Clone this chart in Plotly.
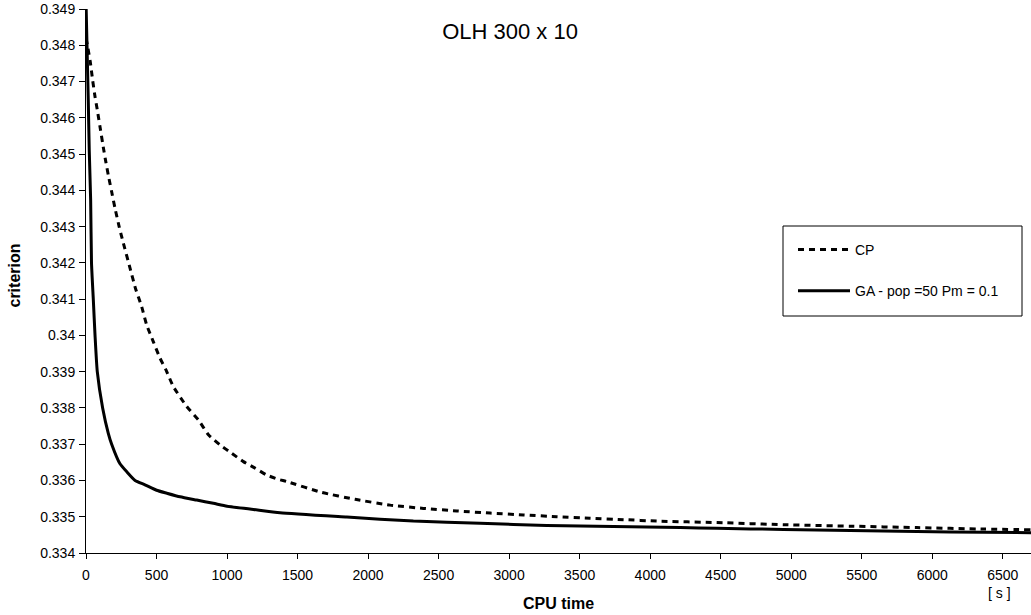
import plotly.graph_objects as go

# ---------------- data ----------------
cp_time = [0, 10, 30, 47, 64, 80, 99, 118, 138, 158, 182, 206, 235, 265, 314, 352,
           395, 430, 477, 525, 567, 619, 714, 797, 868, 950, 1033, 1116, 1199, 1281,
           1364, 1423, 1671, 1908, 2156, 2392, 2629, 2865, 3101, 3338, 3574, 3811,
           4047, 4473, 4946, 5418, 5891, 6364, 6700]
cp_crit = [0.3482, 0.3480, 0.34755, 0.34704, 0.34658, 0.34622, 0.34576, 0.3453, 0.34484,
           0.34442, 0.34396, 0.3435, 0.3430, 0.34254, 0.34183, 0.34128, 0.34079, 0.34029,
           0.33983, 0.33937, 0.33905, 0.33859, 0.33804, 0.33767, 0.33726, 0.33698, 0.33675,
           0.33652, 0.33634, 0.33615, 0.33603, 0.33597, 0.33567, 0.33548, 0.33532, 0.33523,
           0.33516, 0.3351, 0.33505, 0.335, 0.33496, 0.33492, 0.33488, 0.33484, 0.33478,
           0.33474, 0.3347, 0.33466, 0.33464]

ga_time = [0, 16, 23, 33, 39, 52, 64, 80, 118, 158, 182, 241, 289, 348, 418, 500, 572,
           667, 785, 903, 1000, 1187, 1376, 1849, 2321, 2794, 3267, 3740, 4213, 4473,
           4946, 5418, 5891, 6364, 6700]
ga_crit = [0.3492, 0.34649, 0.34511, 0.34373, 0.3420, 0.34098, 0.3400, 0.3390, 0.3380,
           0.3373, 0.3370, 0.33646, 0.33624, 0.3360, 0.33588, 0.33573, 0.33565, 0.33555,
           0.33546, 0.33537, 0.33529, 0.3352, 0.33511, 0.33499, 0.33488, 0.33482, 0.33476,
           0.33473, 0.3347, 0.33468, 0.33465, 0.33462, 0.33459, 0.33457, 0.33456]

series_names = ["CP", "GA - pop =50 Pm = 0.1"]
chart_title = "OLH 300 x 10"
x_title = "CPU time"
y_title = "criterion"
x_unit = "[ s ]"

# ---------------- layout geometry ----------------
W, H = 1031, 615
ML, MR, MT, MB = 86, 0, 9, 62
PW, PH = W - ML - MR, H - MT - MB


def px(xp):
    return (xp - ML) / PW


def py(yp):
    return (H - MB - yp) / PH


FONT = "Liberation Sans, Arial, sans-serif"

fig = go.Figure()
fig.add_trace(go.Scatter(
    x=cp_time, y=cp_crit, mode="lines", name=series_names[0], legendgroup="cp",
    line=dict(color="black", width=3, dash="6px,5px", shape="spline", smoothing=0.5)))
fig.add_trace(go.Scatter(
    x=ga_time, y=ga_crit, mode="lines", name=series_names[1], legendgroup="ga",
    line=dict(color="black", width=3, shape="spline", smoothing=0.5)))

fig.update_layout(
    width=W, height=H,
    margin=dict(l=ML, r=MR, t=MT, b=MB, pad=0),
    paper_bgcolor="white", plot_bgcolor="white",
    font=dict(family=FONT, size=14, color="black"),
    title=dict(text=chart_title, xref="container", yref="container",
               x=510 / W, y=1 - 31.7 / H, xanchor="center", yanchor="middle",
               font=dict(size=22, color="black")),
    showlegend=True,
    legend=dict(x=px(793), y=py(234), xanchor="left", yanchor="top",
                bgcolor="rgba(0,0,0,0)", borderwidth=0, itemwidth=52,
                tracegroupgap=20, traceorder="grouped",
                font=dict(size=14, color="black")),
    xaxis=dict(range=[0, 6700], tick0=0, dtick=500, ticks="outside", ticklen=5,
               tickwidth=1, tickcolor="black", showline=True, linecolor="black",
               linewidth=1, showgrid=False, zeroline=False, automargin=False,
               ticklabelstandoff=4,
               title=dict(text="<b>" + x_title + "</b>", font=dict(size=16), standoff=16)),
    yaxis=dict(range=[0.334, 0.349], tick0=0.334, dtick=0.001, tickformat=".3~f",
               ticks="outside", ticklen=6, tickwidth=1, tickcolor="black",
               showline=True, linecolor="black", linewidth=1, showgrid=False,
               zeroline=False, automargin=False, ticklabelstandoff=1),
)

# legend frame
fig.add_shape(type="rect", xref="paper", yref="paper",
              x0=px(783), x1=px(1022), y0=py(316), y1=py(226),
              line=dict(color="black", width=1), fillcolor="white", layer="above")

# y-axis title and unit label
fig.add_annotation(text="<b>" + y_title + "</b>", xref="paper", yref="paper",
                   x=px(14), y=py(275.5), xanchor="center", yanchor="middle",
                   textangle=-90, showarrow=False, font=dict(size=16, color="black"))
fig.add_annotation(text=x_unit, xref="paper", yref="paper",
                   x=px(999), y=py(592.7), xanchor="center", yanchor="middle",
                   showarrow=False, font=dict(size=14, color="black"))

fig.write_html("out.html")
